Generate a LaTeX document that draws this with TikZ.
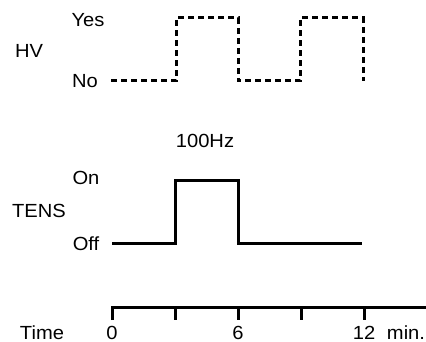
\documentclass[tikz,border=0pt]{standalone}
\usepackage{fontspec}
\setmainfont[FakeStretch=1.06]{Liberation Sans}
\usetikzlibrary{positioning}

\begin{document}
\begin{tikzpicture}[x=1pt,y=-1pt,
        lbl/.style={font=\fontsize{19}{21}\selectfont,anchor=base,inner sep=0pt},
        sig/.style={line width=3pt},
        hvsig/.style={sig,dash pattern=on 6pt off 4pt}]
    \useasboundingbox (0,0) rectangle (426,342);
    % HV
    \coordinate (h0) at (111,81); \coordinate (h1) at (176,81); \coordinate (h2) at (176,18);
    \coordinate (h3) at (238,18); \coordinate (h4) at (238,81); \coordinate (h5) at (300,81);
    \coordinate (h6) at (300,18); \coordinate (h7) at (363,18); \coordinate (h8) at (363,81);
    \draw[hvsig] (h0) -- (h1) -- (h2) -- (h3) -- (h4) -- (h5) -- (h6) -- (h7) -- (h8);
    \node[lbl] (yes) at (88,27) {Yes};
    \node[lbl] (hv) at (29,58) {HV};
    \node[lbl] (no) at (85,88) {No};
    % TENS
    \node[lbl] (freq) at (205,148) {100Hz};
    \coordinate (s0) at (112,243); \coordinate (s1) at (175,243); \coordinate (s2) at (175,181);
    \coordinate (s3) at (238,181); \coordinate (s4) at (238,243); \coordinate (s5) at (362,243);
    \draw[sig] (s0) -- (s1) -- (s2) -- (s3) -- (s4) -- (s5);
    \node[lbl] (on) at (86,185) {On};
    \node[lbl] (tens) at (39,218) {TENS};
    \node[lbl] (off) at (86,250) {Off};
    % time axis
    \coordinate (a0) at (112,320); \coordinate (a1) at (112,307); \coordinate (a2) at (430,307);
    \draw[sig] (a0) -- (a1) -- (a2);
    \foreach \t in {3,6,...,15}
        \draw[sig] (112+21*\t,307) -- ++(0,13);
    \node[lbl] (time) at (42,339) {Time};
    \node[lbl] (t0) at (112,339) {0};
    \node[lbl] (t6) at (238,339) {6};
    \node[lbl] (t12) at (364,339) {12};
    \node[lbl] (min) at (406,339) {min.};
\end{tikzpicture}
\end{document}
